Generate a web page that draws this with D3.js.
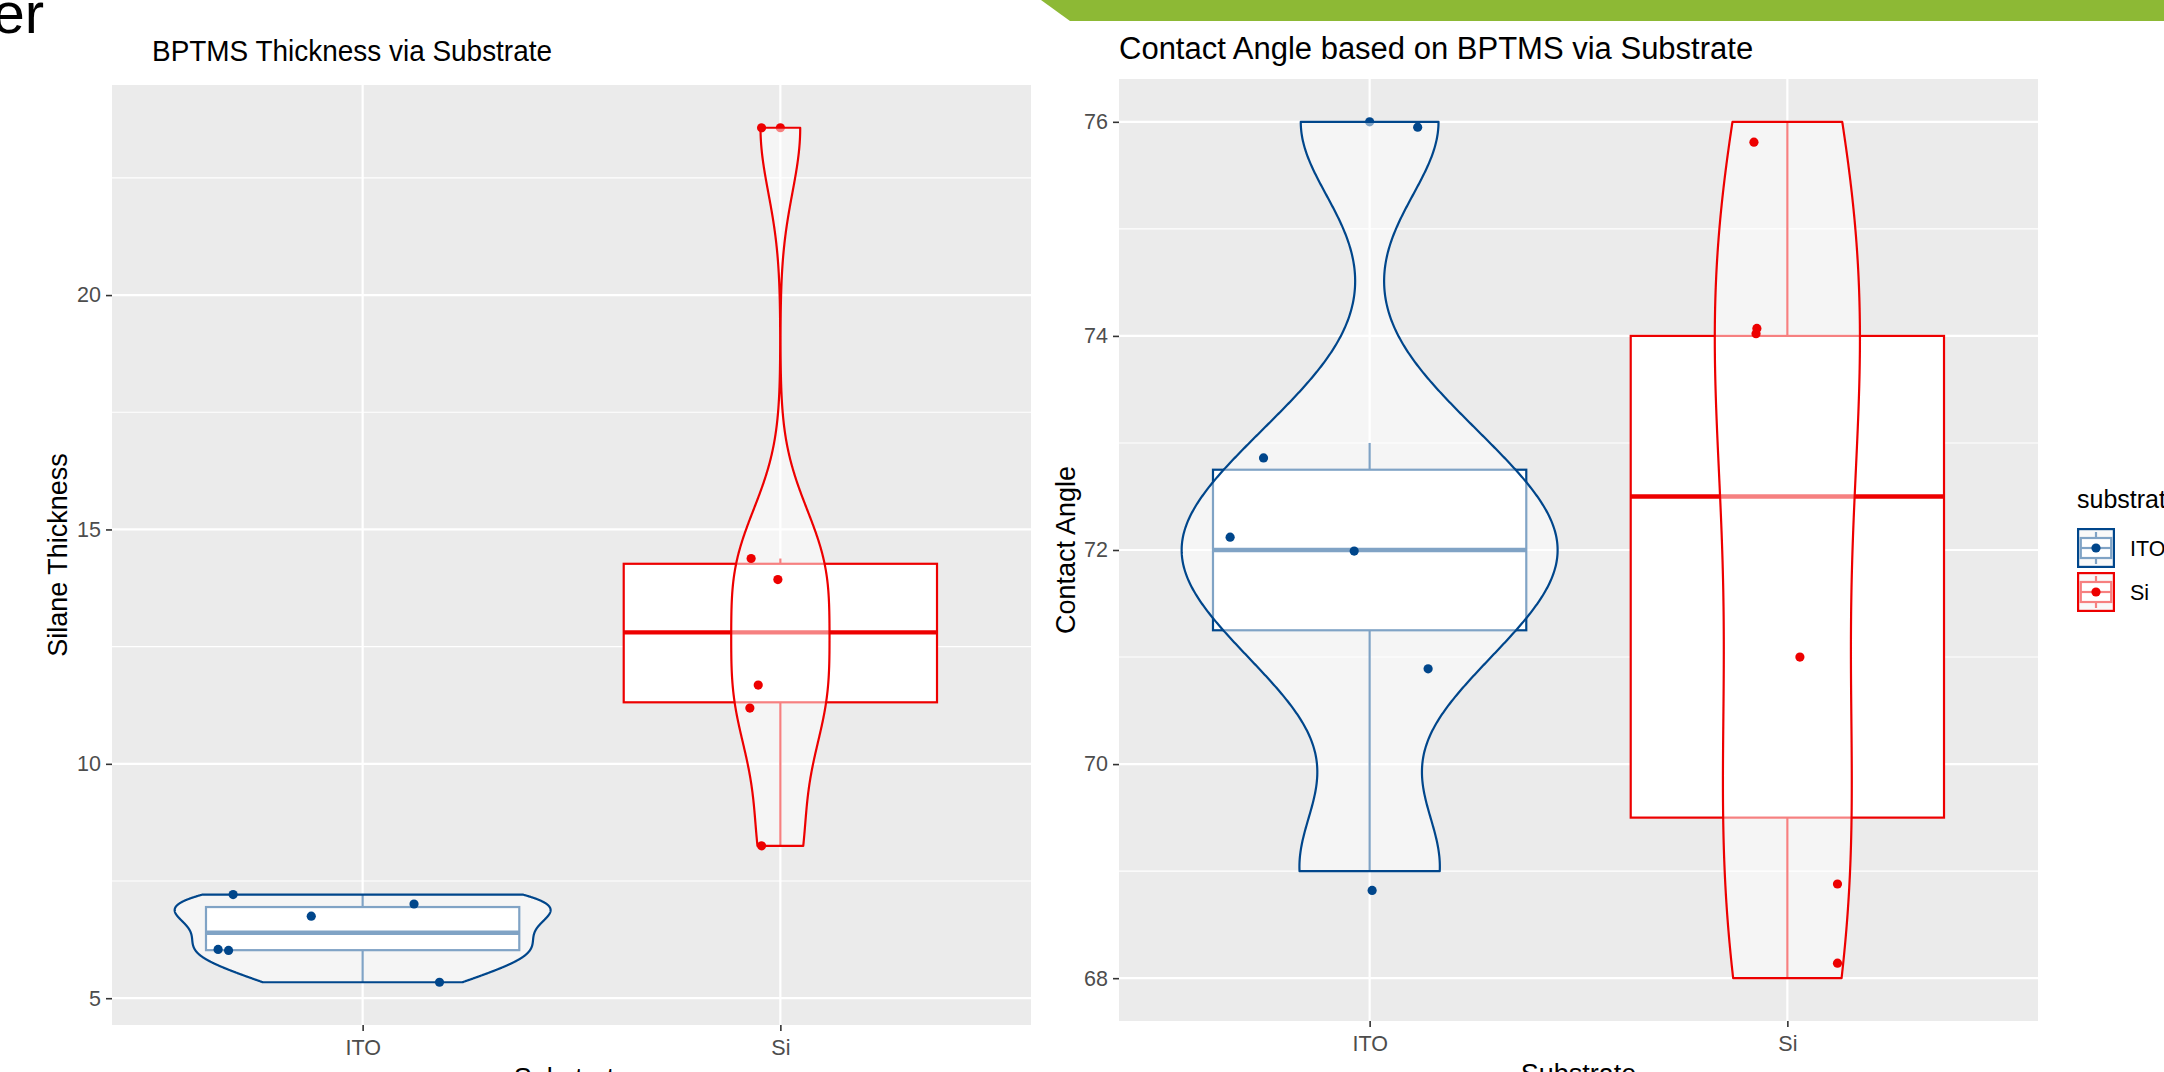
<!DOCTYPE html>
<html>
<head>
<meta charset="utf-8">
<script src="https://cdn.jsdelivr.net/npm/d3@7"></script>
<style>
  html, body { margin: 0; padding: 0; background: #fff; }
  svg { display: block; }
</style>
</head>
<body>
<svg id="chart" width="2164" height="1072"></svg>
<script>
// ---- data -------------------------------------------------------------
const substrates = ["ITO", "Si"];
const substrateColours = ["#00468B", "#ED0000"];

// BPTMS silane thickness measured on each substrate
const thicknessITO = [7.21, 7.01, 6.75, 6.04, 6.02, 5.34];
const thicknessSi  = [23.57, 14.38, 13.93, 11.68, 11.19, 8.25];
// horizontal jitter of the plotted points (category units)
const thicknessJitterITO = [-0.310, 0.123, -0.123, -0.346, -0.321, 0.184];
const thicknessJitterSi  = [-0.045, -0.070, -0.006, -0.053, -0.073, -0.045];
const thicknessTicks = [5, 10, 15, 20];

// contact angle measured on each substrate
const angleITO = [76, 73, 72, 72, 71, 69];
const angleSi  = [76, 74, 74, 71, 69, 68];
// jitter of the plotted points: horizontal (category units), vertical (degrees)
const angleJitterXITO = [0.115, -0.254, -0.334, -0.037, 0.140, 0.006];
const angleJitterYITO = [-0.05, -0.14, 0.12, -0.01, -0.11, -0.18];
const angleJitterXSi  = [-0.080, -0.073, -0.075, 0.030, 0.120, 0.120];
const angleJitterYSi  = [-0.19, 0.07, 0.02, 0.00, -0.12, 0.14];
const angleTicks = [68, 70, 72, 74, 76];

// ---- helpers ----------------------------------------------------------
const FONT = '"Liberation Sans", Arial, Helvetica, sans-serif';
const svg = d3.select("#chart").style("font-family", FONT);

// Silverman's rule of thumb (R's bw.nrd0)
function nrd0(v) {
  const s = [...v].sort(d3.ascending);
  const sd = d3.deviation(s);
  const iqr = (d3.quantile(s, 0.75) - d3.quantile(s, 0.25)) / 1.34;
  let lo = Math.min(sd, iqr);
  if (!(lo > 0)) lo = sd || Math.abs(s[0]) || 1;
  return 0.9 * lo * Math.pow(s.length, -0.2);
}

// gaussian kernel density, trimmed to the data range
function kde(v, n = 512) {
  const bw = nrd0(v);
  const [lo, hi] = d3.extent(v);
  const c = 1 / (v.length * bw * Math.sqrt(2 * Math.PI));
  return d3.range(n).map(i => {
    const yv = lo + (hi - lo) * i / (n - 1);
    const dens = c * d3.sum(v, d => Math.exp(-0.5 * ((yv - d) / bw) ** 2));
    return { y: yv, density: dens };
  });
}

function boxStats(v) {
  const s = [...v].sort(d3.ascending);
  const q1 = d3.quantile(s, 0.25), med = d3.quantile(s, 0.5), q3 = d3.quantile(s, 0.75);
  const iqr = q3 - q1;
  const inside = s.filter(d => d >= q1 - 1.5 * iqr && d <= q3 + 1.5 * iqr);
  return {
    q1, med, q3,
    lo: d3.min(inside), hi: d3.max(inside),
    outliers: s.filter(d => d < q1 - 1.5 * iqr || d > q3 + 1.5 * iqr)
  };
}

// ---- page furniture ---------------------------------------------------
svg.append("path").attr("d", "M1041,0H2164V21H1070Z").attr("fill", "#8DB935");
svg.append("text").attr("x", 44).attr("y", 33).attr("text-anchor", "end")
  .attr("font-size", 58).attr("fill", "#000").text("er");

// ---- one violin + boxplot + jitter panel ------------------------------
function drawPanel(cfg) {
  const g = svg.append("g");
  const x = d3.scalePoint().domain(substrates).range([cfg.left, cfg.right]).padding(0.6);
  const step = x.step();

  const allY = cfg.groups.flatMap(gr => gr.values.concat(gr.values.map((v, i) => v + gr.dy[i])));
  const [lo, hi] = d3.extent(allY);
  const pad = (hi - lo) * 0.05;
  const y = d3.scaleLinear().domain([lo - pad, hi + pad]).range([cfg.bottom, cfg.top]);

  // background + grid
  g.append("rect").attr("x", cfg.left).attr("y", cfg.top)
    .attr("width", cfg.right - cfg.left).attr("height", cfg.bottom - cfg.top).attr("fill", "#EBEBEB");
  const tStep = cfg.ticks[1] - cfg.ticks[0];
  const minor = cfg.ticks.map(t => t - tStep / 2).concat([cfg.ticks[cfg.ticks.length - 1] + tStep / 2])
    .filter(m => m > y.domain()[0] && m < y.domain()[1]);
  g.selectAll(".minor").data(minor).join("line")
    .attr("x1", cfg.left).attr("x2", cfg.right).attr("y1", d => y(d)).attr("y2", d => y(d))
    .attr("stroke", "#fff").attr("stroke-width", 1.1);
  g.selectAll(".major").data(cfg.ticks).join("line")
    .attr("x1", cfg.left).attr("x2", cfg.right).attr("y1", d => y(d)).attr("y2", d => y(d))
    .attr("stroke", "#fff").attr("stroke-width", 2.2);
  g.selectAll(".vmajor").data(substrates).join("line")
    .attr("x1", d => x(d)).attr("x2", d => x(d)).attr("y1", cfg.top).attr("y2", cfg.bottom)
    .attr("stroke", "#fff").attr("stroke-width", 2.2);

  // boxplots
  const bw = 0.75 * step;
  cfg.groups.forEach((gr, i) => {
    const col = substrateColours[i];
    const cx = x(substrates[i]);
    const st = boxStats(gr.values);
    g.selectAll(null).data(st.outliers).join("circle")
      .attr("cx", cx).attr("cy", d => y(d)).attr("r", 4.6).attr("fill", col);
    g.append("line").attr("x1", cx).attr("x2", cx).attr("y1", y(st.q3)).attr("y2", y(st.hi))
      .attr("stroke", col).attr("stroke-width", 2.2);
    g.append("line").attr("x1", cx).attr("x2", cx).attr("y1", y(st.q1)).attr("y2", y(st.lo))
      .attr("stroke", col).attr("stroke-width", 2.2);
    g.append("rect").attr("x", cx - bw / 2).attr("y", y(st.q3))
      .attr("width", bw).attr("height", y(st.q1) - y(st.q3))
      .attr("fill", "#fff").attr("stroke", col).attr("stroke-width", 2.2);
    g.append("line").attr("x1", cx - bw / 2).attr("x2", cx + bw / 2)
      .attr("y1", y(st.med)).attr("y2", y(st.med))
      .attr("stroke", col).attr("stroke-width", 4.4);
  });

  // violins, area-scaled across the panel
  const dens = cfg.groups.map(gr => kde(gr.values));
  const maxD = d3.max(dens.flat(), d => d.density);
  const half = d => (d.density / maxD) * 0.9 * step / 2;
  dens.forEach((dd, i) => {
    const cx = x(substrates[i]);
    const pts = dd.map(d => [cx - half(d), y(d.y)])
      .concat([...dd].reverse().map(d => [cx + half(d), y(d.y)]));
    g.append("path").attr("d", d3.line()(pts) + "Z")
      .attr("fill", "rgba(255,255,255,0.5)")
      .attr("stroke", substrateColours[i]).attr("stroke-width", 2.2)
      .attr("stroke-linejoin", "round");
  });

  // jittered points
  cfg.groups.forEach((gr, i) => {
    const cx = x(substrates[i]);
    g.selectAll(null).data(gr.values.map((v, k) => ({ v, dx: gr.dx[k], dy: gr.dy[k] })))
      .join("circle")
      .attr("cx", d => cx + d.dx * step).attr("cy", d => y(d.v + d.dy))
      .attr("r", 4.6).attr("fill", substrateColours[i]);
  });

  // axes
  const styleAxis = a => {
    a.select(".domain").remove();
    a.selectAll("line").attr("stroke", "#333").attr("stroke-width", 1.6);
    a.selectAll("text").attr("fill", "#4D4D4D").attr("font-size", 21.5).attr("font-family", FONT);
  };
  g.append("g").attr("transform", `translate(${cfg.left},0)`)
    .call(d3.axisLeft(y).tickValues(cfg.ticks).tickSize(6).tickPadding(5).tickFormat(d3.format("d")))
    .call(styleAxis);
  g.append("g").attr("transform", `translate(0,${cfg.bottom})`)
    .call(d3.axisBottom(x).tickSize(6).tickPadding(9))
    .call(styleAxis);

  // titles
  const t = g.append("text").attr("x", cfg.titleX).attr("y", cfg.titleY)
    .attr("font-size", cfg.titleSize).attr("fill", "#000").text(cfg.title);
  if (cfg.titleLength) t.attr("textLength", cfg.titleLength).attr("lengthAdjust", "spacingAndGlyphs");
  g.append("text")
    .attr("transform", `translate(${cfg.yTitleX},${(cfg.top + cfg.bottom) / 2}) rotate(-90)`)
    .attr("text-anchor", "middle").attr("font-size", 27).attr("fill", "#000").text(cfg.yTitle);
  g.append("text").attr("x", (cfg.left + cfg.right) / 2).attr("y", cfg.xTitleY)
    .attr("text-anchor", "middle").attr("font-size", 27).attr("fill", "#000").text("Substrate");
}

drawPanel({
  title: "BPTMS Thickness via Substrate", yTitle: "Silane Thickness",
  left: 112, right: 1031, top: 85, bottom: 1025,
  titleX: 152, titleY: 61, titleSize: 30, titleLength: 400,
  yTitleX: 67, xTitleY: 1087,
  ticks: thicknessTicks,
  groups: [
    { values: thicknessITO, dx: thicknessJitterITO, dy: thicknessITO.map(() => 0) },
    { values: thicknessSi,  dx: thicknessJitterSi,  dy: thicknessSi.map(() => 0) }
  ]
});

drawPanel({
  title: "Contact Angle based on BPTMS via Substrate", yTitle: "Contact Angle",
  left: 1119, right: 2038, top: 79, bottom: 1021,
  titleX: 1119, titleY: 59, titleSize: 31,
  yTitleX: 1075, xTitleY: 1083,
  ticks: angleTicks,
  groups: [
    { values: angleITO, dx: angleJitterXITO, dy: angleJitterYITO },
    { values: angleSi,  dx: angleJitterXSi,  dy: angleJitterYSi }
  ]
});

// ---- legend -----------------------------------------------------------
const legend = svg.append("g");
legend.append("text").attr("x", 2077).attr("y", 508).attr("font-size", 25).attr("fill", "#000").text("substrate");
substrates.forEach((s, i) => {
  const kx = 2077, ky = 528 + i * 44, kw = 38, kh = 40;
  const col = substrateColours[i];
  const k = legend.append("g");
  k.append("rect").attr("x", kx).attr("y", ky).attr("width", kw).attr("height", kh).attr("fill", "#F2F2F2");
  // boxplot glyph
  k.append("line").attr("x1", kx + kw / 2).attr("x2", kx + kw / 2).attr("y1", ky + kh * 0.1).attr("y2", ky + kh * 0.25)
    .attr("stroke", col).attr("stroke-width", 2.2);
  k.append("line").attr("x1", kx + kw / 2).attr("x2", kx + kw / 2).attr("y1", ky + kh * 0.75).attr("y2", ky + kh * 0.9)
    .attr("stroke", col).attr("stroke-width", 2.2);
  k.append("rect").attr("x", kx + kw * 0.1).attr("y", ky + kh * 0.25).attr("width", kw * 0.8).attr("height", kh * 0.5)
    .attr("fill", "#fff").attr("stroke", col).attr("stroke-width", 2.2);
  k.append("line").attr("x1", kx + kw * 0.1).attr("x2", kx + kw * 0.9).attr("y1", ky + kh / 2).attr("y2", ky + kh / 2)
    .attr("stroke", col).attr("stroke-width", 2.2);
  // violin glyph
  k.append("rect").attr("x", kx + 1.1).attr("y", ky + 1.1).attr("width", kw - 2.2).attr("height", kh - 2.2)
    .attr("fill", "rgba(255,255,255,0.5)").attr("stroke", col).attr("stroke-width", 2.2);
  // point glyph
  k.append("circle").attr("cx", kx + kw / 2).attr("cy", ky + kh / 2).attr("r", 4.6).attr("fill", col);
  legend.append("text").attr("x", 2130).attr("y", ky + kh / 2).attr("dy", "0.36em")
    .attr("font-size", 21.5).attr("fill", "#000").text(s);
});
</script>
</body>
</html>
